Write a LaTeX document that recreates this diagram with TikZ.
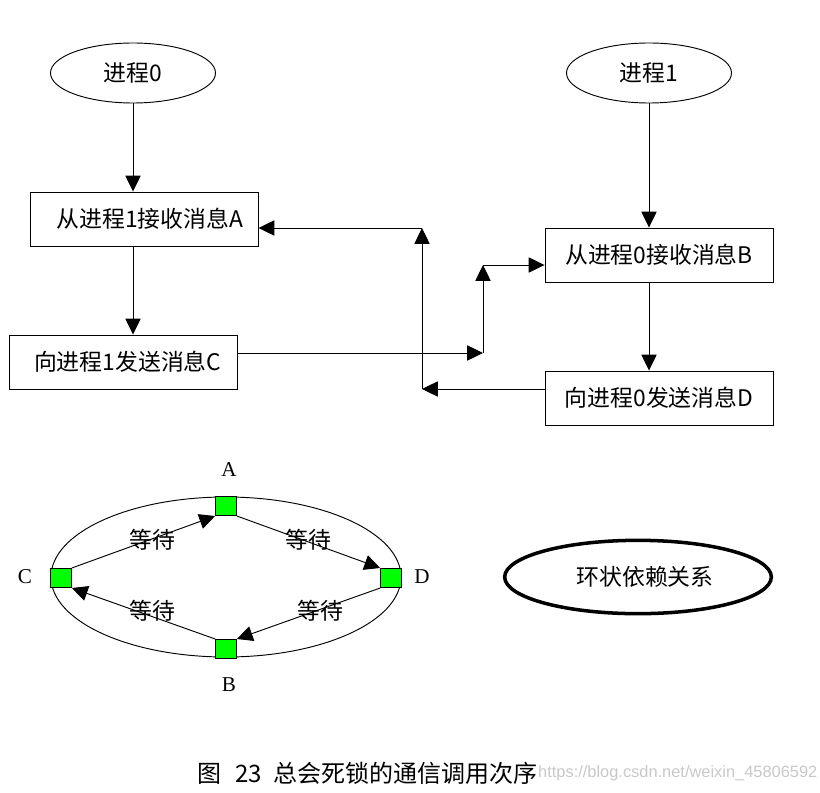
\documentclass[tikz,border=0pt]{standalone}
\usepackage{fontspec}
\setmainfont{Liberation Serif}
\newfontfamily\cjk{Noto Sans CJK SC}
\usepackage{xcolor}
\usepackage{tikz}
\usetikzlibrary{arrows.meta, positioning, shapes.geometric, calc}
\definecolor{lock_green}{RGB}{0, 255, 0}
\definecolor{mark_gray}{RGB}{200, 200, 200}

\begin{document}
\begin{tikzpicture}[x=0.03cm, y=-0.03cm,
      font=\cjk\fontsize{19.5}{21}\selectfont,
      proc/.style={draw, ellipse, line width=0.8pt,
                   minimum width=4.95cm, minimum height=1.8cm},
      blk/.style={draw, line width=0.8pt, align=center,
                  minimum width=6.84cm, minimum height=1.62cm},
      sq/.style={draw, fill=lock_green, line width=0.6pt,
                 minimum width=0.63cm, minimum height=0.58cm, inner sep=0pt},
      lbl/.style={font=\fontsize{18}{20}\selectfont},
      arr/.style={-{Triangle[length=13.5pt, width=13pt]}, line width=0.8pt}]
      \useasboundingbox (0,0) rectangle (820,793);
      % Processus 0
      \node[proc] (p0) at (133,73) {进程0};
      \node[blk] (recvA) at (144,219) {\hspace{10pt}从进程1接收消息A};
      \node[blk] (sendC) at (123,362) {\hspace{8pt}向进程1发送消息C};
      % Processus 1
      \node[proc] (p1) at (649,73) {进程1};
      \node[blk] (recvB) at (659,255) {从进程0接收消息B};
      \node[blk] (sendD) at (659,398) {向进程0发送消息D};
      \draw[arr] (p0) -- (p0 |- recvA.north);
      \draw[arr] (p0 |- recvA.south) -- (p0 |- sendC.north);
      \draw[arr] (p1) -- (p1 |- recvB.north);
      \draw[arr] (p1 |- recvB.south) -- (p1 |- sendD.north);
      % Messages
      \coordinate (cR) at (483,353);
      \coordinate (cU) at (483,265);
      \coordinate (dL) at (422,389);
      \coordinate (dU) at (422,228);
      \draw[arr] (sendC.east |- cR) -- (cR);
      \draw[arr] (cR) -- (cU);
      \draw[arr] (cU) -- (cU -| recvB.west);
      \draw[arr] (sendD.west |- dL) -- (dL);
      \draw[arr] (dL) -- (dU);
      \draw[arr] (dU) -- (dU -| recvA.east);
      % Boucle d'attente
      \node[draw, ellipse, line width=0.8pt, minimum width=10.5cm,
            minimum height=4.8cm] (ring) at (226,577) {};
      \node[sq] (a) at (226,506) {};
      \node[sq] (b) at (226,649) {};
      \node[sq] (c) at (61,578) {};
      \node[sq] (d) at (391,578) {};
      \node[lbl] at (229,470) {A};
      \node[lbl] at (229,685) {B};
      \node[lbl] at (25,577) {C};
      \node[lbl] at (422,577) {D};
      \draw[arr] (c.north east) -- (a.south west);
      \draw[arr] (a.south east) -- (d.north west);
      \draw[arr] (d.south west) -- (b.north east);
      \draw[arr] (b.north west) -- (c.south east);
      \node at (152,540) {等待};
      \node at (308,540) {等待};
      \node at (152,611) {等待};
      \node at (320,611) {等待};
      % Relation circulaire
      \node[draw, ellipse, line width=3pt, minimum width=8cm,
            minimum height=2.2cm] (cyc) at (638,577) {};
      \node at (645,577) {环状依赖关系};
      % Légende
      \node[anchor=east, inner sep=0pt, font=\cjk\fontsize{20.5}{22}\selectfont]
        (cap) at (538,773) {图\hspace{12pt}23\hspace{10pt}总会死锁的通信调用次序};
      \node[anchor=west, inner sep=0pt, text=mark_gray,
            font=\fontspec{Liberation Sans}\fontsize{14}{16}\selectfont]
        at (cap.east) {https://blog.csdn.net/weixin\_45806592};
\end{tikzpicture}
\end{document}
